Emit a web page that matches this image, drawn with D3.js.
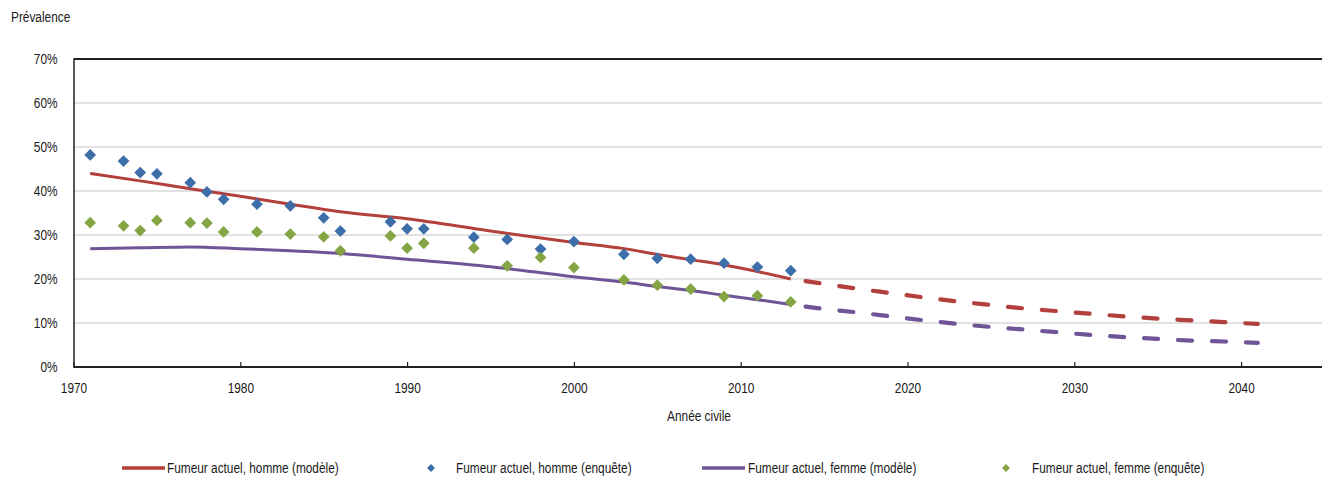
<!DOCTYPE html>
<html>
<head>
<meta charset="utf-8">
<script src="https://cdn.jsdelivr.net/npm/d3@7"></script>
<style>
  html, body { margin: 0; padding: 0; background: #fff; }
  svg { display: block; }
  text { font-family: "Liberation Sans", Arial, sans-serif; fill: #1a1a1a; font-size: 15px; }
</style>
</head>
<body>
<svg id="chart" width="1322" height="477"></svg>
<script>
// Model curves (solid, observed period)
const modelYears = [1971, 1974, 1977, 1980, 1983, 1986, 1990, 1995, 2000, 2003, 2005, 2007, 2009, 2011, 2013];
const maleModel   = [44.0, 42.3, 40.5, 38.8, 37.0, 35.3, 33.7, 30.9, 28.3, 26.9, 25.6, 24.4, 23.2, 21.7, 20.0];
const femaleModel = [26.9, 27.1, 27.3, 26.9, 26.4, 25.8, 24.5, 22.8, 20.5, 19.3, 18.3, 17.4, 16.3, 15.3, 14.2];

// Model projections (dashed)
const projYears = [2013, 2015, 2017, 2019, 2021, 2023, 2025, 2027, 2029, 2031, 2033, 2035, 2037, 2039, 2041];
const maleProj   = [20.0, 18.9, 17.8, 16.8, 15.8, 14.9, 14.1, 13.3, 12.7, 12.1, 11.5, 11.0, 10.6, 10.2, 9.8];
const femaleProj = [14.2, 13.2, 12.4, 11.5, 10.6, 9.8, 9.1, 8.5, 7.9, 7.3, 6.8, 6.4, 6.0, 5.8, 5.5];

// Survey estimates
const surveyYears = [1971, 1973, 1974, 1975, 1977, 1978, 1979, 1981, 1983, 1985, 1986, 1989, 1990, 1991, 1994, 1996, 1998, 2000, 2003, 2005, 2007, 2009, 2011, 2013];
const maleSurvey   = [48.2, 46.8, 44.2, 43.9, 41.9, 39.8, 38.1, 37.0, 36.6, 33.9, 30.9, 33.0, 31.4, 31.4, 29.5, 29.0, 26.8, 28.5, 25.6, 24.7, 24.5, 23.6, 22.7, 21.9];
const femaleSurvey = [32.8, 32.1, 31.0, 33.3, 32.8, 32.7, 30.7, 30.7, 30.2, 29.6, 26.4, 29.8, 27.0, 28.1, 27.0, 23.0, 24.9, 22.6, 19.8, 18.6, 17.7, 16.0, 16.2, 14.8];

const xTicks = [1970, 1980, 1990, 2000, 2010, 2020, 2030, 2040];
const yTicks = [0, 10, 20, 30, 40, 50, 60, 70];

const legendLabels = [
  "Fumeur actuel, homme (modèle)",
  "Fumeur actuel, homme (enquête)",
  "Fumeur actuel, femme (modèle)",
  "Fumeur actuel, femme (enquête)"
];

const colors = { male: "#b3403b", female: "#6f5597", maleDot: "#3d6ea9", femaleDot: "#85a545" };

// Narrow text: regular face squeezed horizontally
const NARROW = 0.79;
function narrowText(parent, x, yPos, str, anchor) {
  return parent.append("text")
    .attr("transform", `translate(${x},${yPos}) scale(${NARROW},1)`)
    .attr("text-anchor", anchor || "start")
    .text(str);
}

const svg = d3.select("#chart");
const plot = { left: 73.5, top: 59, bottom: 367 };

const x = d3.scaleLinear().domain([1970, 2045]).range([plot.left, plot.left + 75 * 16.68]);
const y = d3.scaleLinear().domain([0, 70]).range([plot.bottom, plot.top]);

// Horizontal gridlines
svg.append("g")
  .selectAll("line")
  .data(yTicks.filter(t => t > 0 && t < 70))
  .join("line")
  .attr("x1", plot.left).attr("x2", 1322)
  .attr("y1", d => y(d)).attr("y2", d => y(d))
  .attr("stroke", "#d9d9d9").attr("stroke-width", 1.5);

// Top border
svg.append("line")
  .attr("x1", plot.left).attr("x2", 1322)
  .attr("y1", y(70)).attr("y2", y(70))
  .attr("stroke", "#222").attr("stroke-width", 2);

// Y axis
const yAxis = svg.append("g")
  .attr("transform", `translate(${plot.left},0)`)
  .call(d3.axisLeft(y).tickValues(yTicks).tickFormat(d => d + "%").tickSize(0).tickPadding(16));
yAxis.select(".domain").attr("stroke", "#222").attr("stroke-width", 1.5);
yAxis.selectAll(".tick text")
  .attr("x", -16 / NARROW)
  .attr("transform", `scale(${NARROW},1)`)
  .attr("fill", "#1a1a1a");

// X axis
const xAxis = svg.append("g")
  .attr("transform", `translate(0,${plot.bottom})`)
  .call(d3.axisBottom(x).tickValues(xTicks).tickFormat(d3.format("d")).tickSize(-5).tickPadding(15));
xAxis.select(".domain").attr("stroke", "#222").attr("stroke-width", 2.2).attr("d", `M${plot.left},0H1322`);
xAxis.selectAll(".tick line").attr("stroke", "#222").attr("stroke-width", 1.2);
xAxis.selectAll(".tick text")
  .attr("transform", `scale(${NARROW},1)`)
  .attr("fill", "#1a1a1a");
svg.selectAll("g[font-size]").attr("font-size", null).attr("font-family", null);

// Axis titles
narrowText(svg, 11, 22, "Prévalence");
narrowText(svg, 699, 421, "Année civile", "middle");

// Lines
const line = d3.line().x(d => x(d[0])).y(d => y(d[1])).curve(d3.curveMonotoneX);
const zipYears = (years, vals) => years.map((yr, i) => [yr, vals[i]]);

svg.append("path").datum(zipYears(modelYears, maleModel))
  .attr("d", line).attr("fill", "none").attr("stroke", colors.male).attr("stroke-width", 3);
svg.append("path").datum(zipYears(modelYears, femaleModel))
  .attr("d", line).attr("fill", "none").attr("stroke", colors.female).attr("stroke-width", 3);

svg.append("path").datum(zipYears(projYears, maleProj))
  .attr("d", line).attr("fill", "none").attr("stroke", colors.male).attr("stroke-width", 4.2)
  .attr("stroke-linecap", "round").attr("stroke-dasharray", "14,20").attr("stroke-dashoffset", 19);
svg.append("path").datum(zipYears(projYears, femaleProj))
  .attr("d", line).attr("fill", "none").attr("stroke", colors.female).attr("stroke-width", 4.2)
  .attr("stroke-linecap", "round").attr("stroke-dasharray", "14,20").attr("stroke-dashoffset", 19);

// Survey diamonds
const diamond = d3.symbol().type(d3.symbolDiamond2).size(88);
svg.append("g").selectAll("path")
  .data(zipYears(surveyYears, maleSurvey))
  .join("path")
  .attr("d", diamond)
  .attr("transform", d => `translate(${x(d[0])},${y(d[1])})`)
  .attr("fill", colors.maleDot);
svg.append("g").selectAll("path")
  .data(zipYears(surveyYears, femaleSurvey))
  .join("path")
  .attr("d", diamond)
  .attr("transform", d => `translate(${x(d[0])},${y(d[1])})`)
  .attr("fill", colors.femaleDot);

// Legend
const legendY = 468;
const legend = svg.append("g");
const legendItems = [
  { kind: "line", color: colors.male, x: 122, tx: 167, label: legendLabels[0] },
  { kind: "dot", color: colors.maleDot, x: 431, tx: 456, label: legendLabels[1] },
  { kind: "line", color: colors.female, x: 702, tx: 748, label: legendLabels[2] },
  { kind: "dot", color: colors.femaleDot, x: 1006, tx: 1032, label: legendLabels[3] }
];
legendItems.forEach(it => {
  if (it.kind === "line") {
    legend.append("line").attr("x1", it.x).attr("x2", it.x + 43)
      .attr("y1", legendY).attr("y2", legendY)
      .attr("stroke", it.color).attr("stroke-width", 3.5);
  } else {
    legend.append("path").attr("d", d3.symbol().type(d3.symbolDiamond2).size(40))
      .attr("transform", `translate(${it.x},${legendY})`)
      .attr("fill", it.color);
  }
  narrowText(legend, it.tx, legendY + 5, it.label);
});
</script>
</body>
</html>
